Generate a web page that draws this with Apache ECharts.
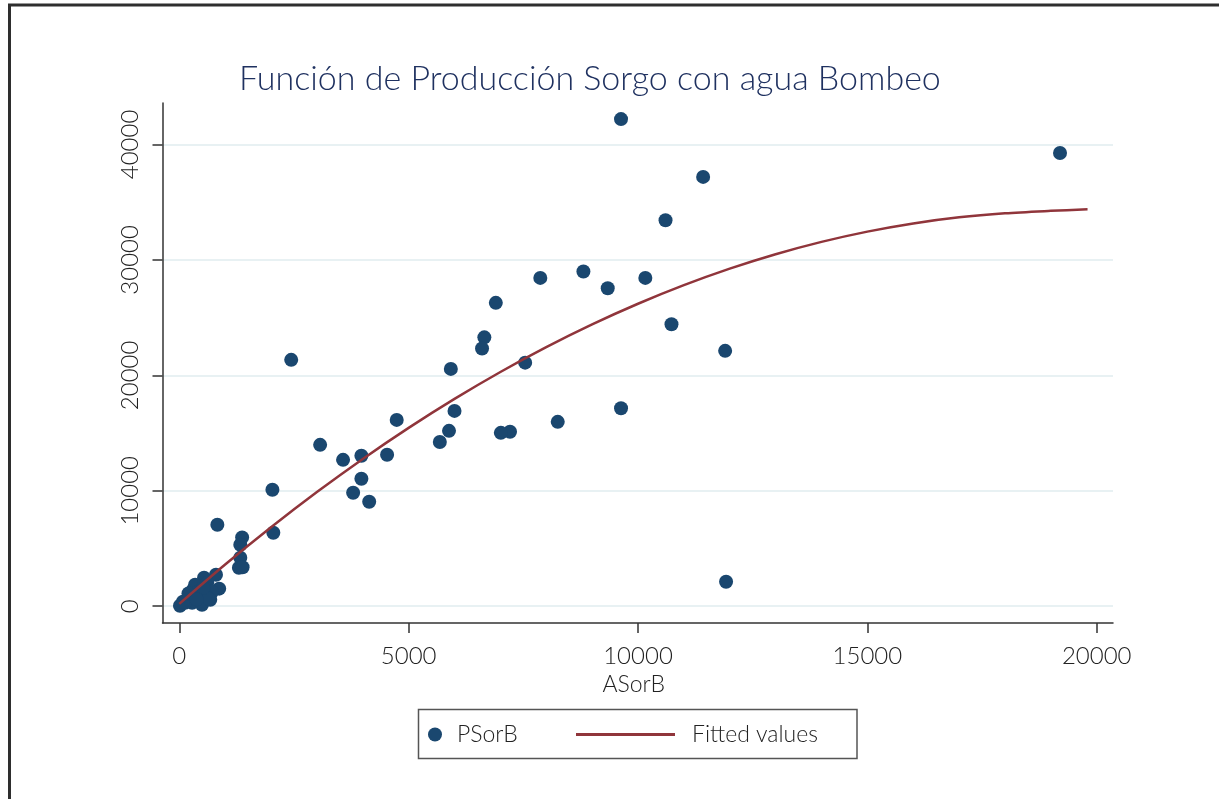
<!DOCTYPE html>
<html>
<head>
<meta charset="utf-8">
<script src="https://cdn.jsdelivr.net/npm/echarts@6/dist/echarts.min.js"></script>
<style>
  html, body { margin: 0; padding: 0; background: #ffffff; }
  #chart { width: 1219px; height: 799px; }
</style>
</head>
<body>
<div id="chart"></div>
<script>
// Observed pairs: irrigated sorghum area (ASorB) vs production (PSorB)
const psorbX = [
  9630, 19200, 11420, 10600, 8810, 7870, 10160, 9340, 6900, 10730,
  6650, 6600, 11900, 2440, 7540, 5920, 9630, 6000, 4740, 8250,
  5880, 7210, 7010, 3070, 5680, 3570, 4530, 3970, 3970, 3790,
  4140, 2030, 2050, 830, 1370, 1330, 1330, 1300, 1380, 11920,
  800, 870, 540, 610, 675, 455, 300, 170, 15, 280,
  345, 410, 125, 495, 715, 235, 560, 80, 640, 520,
  200, 380
];
const psorbY = [
  42200, 39260, 37190, 33430, 29000, 28440, 28440, 27550, 26280, 24430,
  23290, 22330, 22120, 21340, 21100, 20560, 17150, 16920, 16140, 15970,
  15190, 15110, 15020, 13980, 14230, 12680, 13120, 13030, 11040, 9830,
  9050, 10090, 6360, 7060, 5960, 5320, 4200, 3330, 3370, 2120,
  2730, 1520, 2470, 2040, 560, 820, 1430, 560, 40, 300,
  1860, 1255, 300, 130, 1255, 910, 995, 390, 650, 1600,
  1100, 600
];

// Fitted curve, read along its length
const fitX = [0, 1000, 2000, 3000, 4000, 5000, 6000, 7000, 8000, 9000,
  10000, 11000, 12000, 13000, 14000, 15000, 16000, 17000, 18000, 19000, 19800];
const fitY = [200, 3610, 6840, 9890, 12760, 15450, 17960, 20290, 22440, 24410,
  26200, 27810, 29240, 30490, 31560, 32450, 33160, 33690, 34040, 34250, 34380];

const xTicks = [0, 5000, 10000, 15000, 20000];
const yTicks = [0, 10000, 20000, 30000, 40000];

const scatterData = psorbX.map((x, i) => [x, psorbY[i]]);
const fitData = fitX.map((x, i) => [x, fitY[i]]);

const FONT = 'Lato';
const navy = '#1a476f';
const maroon = '#90353b';
const axisGray = '#333333';
const plainNumber = v => String(Math.round(v));

const chart = echarts.init(document.getElementById('chart'), null, { renderer: 'canvas' });

chart.setOption({
  backgroundColor: '#ffffff',
  animation: false,
  title: {
    text: 'Función de Producción Sorgo con agua Bombeo',
    left: 239,
    top: 62,
    padding: 0,
    textStyle: { fontFamily: FONT, fontWeight: 300, fontSize: 34, color: '#1f3160' }
  },
  grid: {
    left: 162.5, top: 103, right: 106, bottom: 176,
    containLabel: false, outerBoundsMode: 'none'
  },
  legend: [
    {
      data: [{ name: 'PSorB', icon: 'circle' }],
      left: 428, top: 723, padding: 0,
      itemWidth: 14, itemHeight: 14,
      textStyle: { fontFamily: FONT, fontWeight: 300, fontSize: 23, color: '#222', padding: [0, 0, 0, 10] }
    },
    {
      data: [{ name: 'Fitted values', icon: 'rect' }],
      left: 576, top: 723, padding: 0,
      itemWidth: 99, itemHeight: 3,
      textStyle: { fontFamily: FONT, fontWeight: 300, fontSize: 23, color: '#222', padding: [0, 0, 0, 12] }
    }
  ],
  xAxis: {
    type: 'value',
    min: -366, max: 20355,
    name: 'ASorB',
    nameLocation: 'middle',
    nameGap: 47,
    nameTextStyle: { fontFamily: FONT, fontWeight: 300, fontSize: 23, color: '#222', padding: [0, 8, 0, 0] },
    axisLine: { show: true, onZero: false, lineStyle: { color: axisGray, width: 1.5 } },
    axisTick: { show: true, length: 10, customValues: xTicks, lineStyle: { color: axisGray, width: 1.5 } },
    axisLabel: { customValues: xTicks, formatter: plainNumber, margin: 21, fontFamily: FONT, fontWeight: 300, fontSize: 24, color: '#222' },
    splitLine: { show: false }
  },
  yAxis: {
    type: 'value',
    min: -1455, max: 43593,
    axisLine: { show: true, onZero: false, lineStyle: { color: axisGray, width: 1.5 } },
    axisTick: { show: true, length: 10, customValues: yTicks, lineStyle: { color: axisGray, width: 1.5 } },
    axisLabel: { customValues: yTicks, formatter: plainNumber, rotate: 90, margin: 20, fontFamily: FONT, fontWeight: 300, fontSize: 24, color: '#222' },
    splitLine: { show: true, lineStyle: { color: '#e8f1f3', width: 2 } }
  },
  series: [
    {
      name: 'PSorB',
      type: 'scatter',
      data: scatterData,
      symbol: 'circle',
      symbolSize: 14,
      itemStyle: { color: navy, opacity: 1 },
      z: 2
    },
    {
      name: 'Fitted values',
      type: 'line',
      data: fitData,
      smooth: 0.3,
      showSymbol: false,
      symbol: 'none',
      lineStyle: { color: maroon, width: 2.5 },
      itemStyle: { color: maroon },
      z: 3
    }
  ],
  graphic: [
    {
      type: 'rect',
      shape: { x: 9.5, y: 5, width: 1400, height: 1000 },
      style: { fill: 'none', stroke: '#2e2e2e', lineWidth: 3 },
      silent: true
    },
    {
      type: 'rect',
      shape: { x: 418.5, y: 709.5, width: 438.5, height: 49 },
      style: { fill: 'none', stroke: '#555555', lineWidth: 1.5 },
      silent: true
    }
  ]
});
</script>
</body>
</html>
